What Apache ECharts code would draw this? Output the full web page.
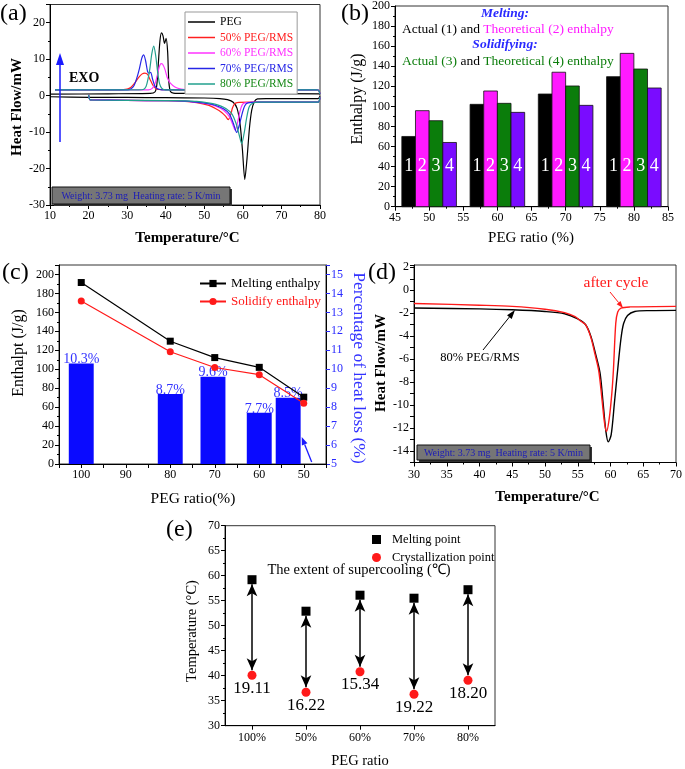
<!DOCTYPE html>
<html>
<head>
<meta charset="utf-8">
<script src="https://cdn.jsdelivr.net/npm/echarts/dist/echarts.min.js"></script>
<style>
html,body{margin:0;padding:0;background:#fff;}
#chart{width:685px;height:769px;}
</style>
</head>
<body>
<div id="chart"></div>
<script>
// ---------------- DATA ----------------
// (a) DSC curves [temperature °C, heat flow mW]
const pegHeat = [[10,-0.3],[20,-0.45],[30,-0.5],[40,-0.55],[50,-0.65],[54,-0.8],[56,-1.1],[57.5,-1.8],[58.5,-3.5],[59.3,-8],[59.9,-15],[60.5,-23],[61.1,-17],[61.7,-9],[62.3,-4],[63,-1.6],[63.8,-0.9],[66,-0.8],[79.5,-0.8],[80,-0.2]];
const pegCool = [[80,0.5],[60,0.55],[45,0.6],[42,0.7],[41.2,1.2],[40.8,4],[40.5,12],[40.1,15.7],[39.7,14.3],[39.3,16.4],[38.9,17.2],[38.5,15],[38.1,9],[37.7,3],[37.2,1],[36,0.6],[25,0.5],[10,0.4]];
const r50Heat = [[20,0.2],[20.3,-1.1],[21,-1.2],[30,-1.3],[40,-1.4],[45,-1.6],[48,-1.9],[51,-2.6],[53,-3.6],[54.5,-4.6],[55.5,-5.6],[56.2,-6.6],[56.8,-5.4],[57.3,-3.4],[57.8,-2.3],[58.5,-1.9],[62,-1.8],[79.5,-1.8],[80,-0.5]];
const r50Cool = [[80,0.5],[79.6,1.5],[79,1.6],[45,1.6],[38,1.7],[37.3,2.1],[36.6,3],[36,4.3],[35.3,5.8],[34.6,6.2],[33.8,5.9],[33,5],[32,3.5],[31,2.3],[30,1.8],[28,1.6],[11.3,1.6]];
const r60Heat = [[20,0.2],[20.3,-1.1],[21,-1.2],[30,-1.3],[40,-1.4],[45,-1.5],[48,-1.8],[51,-2.3],[53,-2.9],[55,-4],[56.5,-5.8],[57.4,-8],[58,-9.5],[58.6,-7.5],[59.2,-4.5],[59.8,-2.6],[60.5,-2],[64,-1.8],[79.5,-1.8],[80,-0.5]];
const r60Cool = [[80,0.5],[79.6,1.5],[79,1.6],[46,1.6],[44,1.8],[42.5,2.3],[41.2,3.4],[40.4,5],[39.8,7.2],[39.2,8.6],[38.8,8.8],[38.3,7.8],[37.8,5.5],[37.2,3.2],[36.5,2],[35.5,1.6],[11.3,1.6]];
const r70Heat = [[20,0.2],[20.3,-1.1],[21,-1.2],[30,-1.3],[40,-1.4],[45,-1.5],[48,-1.8],[51,-2.2],[53,-2.7],[55,-3.6],[56.5,-5],[57.5,-7.5],[58.4,-10.1],[59.1,-8],[59.8,-5],[60.5,-2.8],[61.3,-2],[64,-1.8],[79.5,-1.8],[80,-0.5]];
const r70Cool = [[80,0.5],[79.6,1.5],[79,1.6],[39,1.6],[38,1.8],[37.2,2.6],[36.6,4.5],[36.1,6.4],[35.7,6.2],[35.3,6.6],[34.8,9.5],[34.3,11.2],[33.8,10.3],[33.2,7.5],[32.5,4.8],[31.8,2.8],[31,1.9],[30,1.6],[11.3,1.6]];
const r80Heat = [[20,0.2],[20.3,-1.1],[21,-1.2],[30,-1.3],[40,-1.35],[45,-1.45],[48,-1.6],[51,-2.0],[53,-2.4],[55,-3.2],[57,-4.8],[58.2,-7.5],[59.1,-11],[59.7,-13.2],[60.3,-10.5],[61,-6],[61.6,-3.2],[62.3,-2.2],[64,-1.8],[79.5,-1.8],[80,-0.5]];
const r80Cool = [[80,0.5],[79.6,1.5],[79,1.6],[40,1.6],[39,2],[38.4,3.3],[37.9,6.5],[37.4,11],[36.9,13.6],[36.4,11.5],[35.9,7.5],[35.4,4.5],[34.9,2.5],[34.2,1.7],[33,1.6],[11.3,1.6]];

// (b) enthalpy bars
const ratioB = [50, 60, 70, 80];
const actualMelt = [70, 102, 112.3, 129.6];
const theoMelt = [95.7, 115.3, 134, 152.8];
const actualSolid = [85.7, 103, 120.3, 137.2];
const theoSolid = [64, 94, 101, 118.3];

// (c) enthalpy vs ratio, heat loss
const ratioC = [100, 80, 70, 60, 50];
const meltC = [191.5, 129.6, 112.3, 102, 70.5];
const solidC = [172, 118.5, 101.8, 94.3, 64];
const lossBarX = [100, 80, 70.4, 60, 53.5];
const lossC = [10.3, 8.7, 9.6, 7.7, 8.5];

// (d) cycling DSC
const d80 = [[30,-1.55],[40,-1.62],[45,-1.7],[50,-1.85],[53,-2.05],[55,-2.5],[56.2,-3.0],[57,-4.0],[57.7,-5.5],[58.4,-7.2],[58.9,-10],[59.3,-12.3],[59.65,-13.2],[60.1,-12.6],[60.6,-9.8],[61.1,-6.9],[61.6,-4.2],[62,-2.9],[62.6,-2.2],[63.7,-1.85],[66,-1.77],[70,-1.75]];
const dCycle = [[30,-1.15],[40,-1.3],[45,-1.4],[50,-1.65],[53,-1.95],[54.6,-2.3],[55.5,-2.7],[56.2,-3.0],[57,-4.1],[57.6,-5.5],[58.2,-7.0],[58.7,-9.5],[59.1,-11.6],[59.4,-12.3],[59.8,-11.2],[60.2,-9.0],[60.45,-6.9],[60.8,-2.9],[61.1,-1.9],[61.6,-1.55],[63,-1.45],[70,-1.4]];

// (e) supercooling
const ratioE = ['100%', '50%', '60%', '70%', '80%'];
const meltE = [59.2, 52.9, 56.1, 55.5, 57.2];
const crystE = [40.1, 36.7, 40.8, 36.3, 39.1];
const supercool = ['19.11', '16.22', '15.34', '19.22', '18.20'];

// ---------------- STYLE / LAYOUT ----------------
const FONT = '"Liberation Serif","Times New Roman",serif';

function mkAxis(base, o) {
  o = o || {};
  return Object.assign({
    axisLine: {show: true, onZero: false, lineStyle: {color: '#000', width: 1}},
    axisTick: {show: true, inside: false, length: 4, alignWithLabel: true, lineStyle: {color: o.tickColor || '#000', width: 1}},
    minorTick: {show: !!o.minor, splitNumber: o.minor || 2, length: 2, lineStyle: {color: '#000', width: 1}},
    splitLine: {show: false},
    minorSplitLine: {show: false},
    axisLabel: {color: o.labelColor || '#000', fontSize: 12, fontFamily: FONT, margin: o.margin || 5, formatter: o.fmt}
  }, base);
}

const grids = [
  {left: 50, top: 4.5, width: 270, height: 200.5},
  {left: 395, top: 6, width: 273, height: 200.7},
  {left: 59, top: 265, width: 267, height: 199},
  {left: 414, top: 265, width: 264.3, height: 197.5},
  {left: 225, top: 525.7, width: 270, height: 200}
].map(g => Object.assign({show: true, borderColor: '#333', borderWidth: 1, backgroundColor: 'transparent'}, g));

const xAxes = [
  mkAxis({gridIndex: 0, type: 'value', min: 10, max: 80, interval: 10}, {minor: 2, margin: 5}),
  mkAxis({gridIndex: 1, type: 'value', min: 45, max: 85, interval: 5}, {minor: 2, margin: 5}),
  mkAxis({gridIndex: 2, type: 'value', min: 45, max: 105, interval: 5, inverse: true}, {margin: 5, fmt: v => (v % 10 === 0 ? String(v) : '')}),
  mkAxis({gridIndex: 3, type: 'value', min: 30, max: 70, interval: 5}, {minor: 2, margin: 6}),
  mkAxis({gridIndex: 4, type: 'category', data: ratioE, boundaryGap: true}, {margin: 6})
];
const yAxes = [
  mkAxis({gridIndex: 0, type: 'value', min: -30, max: 25, interval: 10}, {minor: 2, fmt: v => (v > 20 ? '' : String(v))}),
  mkAxis({gridIndex: 1, type: 'value', min: 0, max: 200, interval: 20}, {minor: 2}),
  mkAxis({gridIndex: 2, type: 'value', min: 0, max: 210, interval: 20}, {minor: 2, fmt: v => (v > 200 ? '' : String(v))}),
  mkAxis({gridIndex: 2, type: 'value', position: 'right', min: 5, max: 15.5, interval: 1}, {labelColor: '#2a2aff', tickColor: '#2a2aff', fmt: v => (v > 15 ? '' : String(v))}),
  mkAxis({gridIndex: 3, type: 'value', min: -15, max: 2.2, interval: 1}, {fmt: v => (Math.abs(v - Math.round(v)) < 1e-6 && Math.round(v) % 2 === 0 ? String(Math.round(v)) : '')}),
  mkAxis({gridIndex: 4, type: 'value', min: 30, max: 70, interval: 5}, {minor: 2})
];

// (a) series
const dscA = [
  ['PEG', pegHeat, pegCool, '#000000'],
  ['50% PEG/RMS', r50Heat, r50Cool, '#ff2020'],
  ['60% PEG/RMS', r60Heat, r60Cool, '#ff33ff'],
  ['70% PEG/RMS', r70Heat, r70Cool, '#2626e6'],
  ['80% PEG/RMS', r80Heat, r80Cool, '#22a08e']
];
const series = [];
dscA.forEach(([name, heat, cool, color]) => {
  [heat, cool].forEach(d => series.push({
    name, type: 'line', xAxisIndex: 0, yAxisIndex: 0, data: d, symbol: 'none', showSymbol: false,
    smooth: 0.25, color, lineStyle: {color, width: 1.2}, z: 3
  }));
});

// (b) bars
const barSpecs = [
  [actualMelt, -3, '#000000', '1'],
  [theoMelt, -1, '#ff1aff', '2'],
  [actualSolid, 1, '#0b7d0b', '3'],
  [theoSolid, 3, '#7a0cff', '4']
];
barSpecs.forEach(([vals, off, color, lab]) => {
  series.push({
    type: 'custom', xAxisIndex: 1, yAxisIndex: 1,
    data: ratioB.map((r, i) => [r, vals[i]]),
    renderItem: (params, api) => {
      const x = api.value(0), v = api.value(1);
      const p0 = api.coord([x + off - 1, v]);
      const p1 = api.coord([x + off + 1, 0]);
      const pl = api.coord([x + off, 40]);
      return {type: 'group', children: [
        {type: 'rect', shape: {x: p0[0], y: p0[1], width: p1[0] - p0[0], height: p1[1] - p0[1]}, style: {fill: color, stroke: '#111', lineWidth: 0.8}},
        {type: 'text', x: pl[0], y: pl[1], style: {text: lab, fill: '#fff', fontSize: 18, fontFamily: FONT, align: 'center', verticalAlign: 'middle'}}
      ]};
    }
  });
});

// (c) heat-loss bars + lines
series.push({
  type: 'custom', xAxisIndex: 2, yAxisIndex: 3, z: 1,
  data: lossBarX.map((x, i) => [x, lossC[i]]),
  renderItem: (params, api) => {
    const x = api.value(0), v = api.value(1);
    const p0 = api.coord([x - 2.8, v]);
    const p1 = api.coord([x + 2.8, 5]);
    const left = Math.min(p0[0], p1[0]);
    return {type: 'group', children: [
      {type: 'rect', shape: {x: left, y: p0[1], width: Math.abs(p1[0] - p0[0]), height: p1[1] - p0[1]}, style: {fill: '#0a0aff'}},
      {type: 'text', x: (p0[0] + p1[0]) / 2, y: p0[1] - 4, style: {text: lossC[params.dataIndex].toFixed(1) + '%', fill: '#3333ff', fontSize: 14, fontFamily: FONT, align: 'center', verticalAlign: 'middle'}}
    ]};
  }
});
series.push({
  name: 'Melting enthalpy', type: 'line', xAxisIndex: 2, yAxisIndex: 2, z: 5,
  data: ratioC.map((r, i) => [r, meltC[i]]), symbol: 'rect', symbolSize: 7,
  color: '#000', lineStyle: {color: '#000', width: 1.2}, itemStyle: {color: '#000', opacity: 1}
});
series.push({
  name: 'Solidify enthalpy', type: 'line', xAxisIndex: 2, yAxisIndex: 2, z: 5,
  data: ratioC.map((r, i) => [r, solidC[i]]), symbol: 'circle', symbolSize: 7,
  color: '#ff1a1a', lineStyle: {color: '#ff1a1a', width: 1.2}, itemStyle: {color: '#ff1a1a', opacity: 1}
});

// (d)
series.push({name: '80% PEG/RMS (d)', type: 'line', xAxisIndex: 3, yAxisIndex: 4, data: d80, symbol: 'none', smooth: 0.3, lineStyle: {color: '#000', width: 1.4}, color: '#000'});
series.push({name: 'after cycle', type: 'line', xAxisIndex: 3, yAxisIndex: 4, data: dCycle, symbol: 'none', smooth: 0.3, lineStyle: {color: '#ff1a1a', width: 1.4}, color: '#ff1a1a'});

// (e)
series.push({
  name: 'Melting point', type: 'scatter', xAxisIndex: 4, yAxisIndex: 5, z: 5,
  data: meltE, symbol: 'rect', symbolSize: 9, itemStyle: {color: '#000', opacity: 1}, color: '#000',
  markLine: {
    silent: true, symbol: ['arrow', 'arrow'], symbolSize: [8, 12], animation: false,
    label: {show: false}, lineStyle: {color: '#000', width: 1.5, type: 'solid', opacity: 1},
    data: ratioE.map((c, i) => [{coord: [i, meltE[i] - 0.9]}, {coord: [i, crystE[i] + 1.0]}])
  }
});
series.push({
  name: 'Crystallization point', type: 'scatter', xAxisIndex: 4, yAxisIndex: 5, z: 5,
  data: crystE, symbol: 'circle', symbolSize: 9, itemStyle: {color: '#ff1a1a', opacity: 1}, color: '#ff1a1a',
  label: {show: true, position: 'bottom', distance: 0, formatter: p => supercool[p.dataIndex], color: '#000', fontSize: 17, fontFamily: FONT}
});

// ---------------- GRAPHIC ANNOTATIONS ----------------
function txt(x, y, text, o) {
  o = o || {};
  return {type: 'text', x, y, rotation: o.rot || 0, z: 20, style: {
    text, fill: o.color || '#000', fontSize: o.size || 16, fontFamily: FONT,
    fontWeight: o.bold ? 'bold' : 'normal', fontStyle: o.italic ? 'italic' : 'normal',
    align: o.align || 'center', verticalAlign: 'middle', rich: o.rich
  }};
}
function arrow(x1, y1, x2, y2, color, lw, hl, hw) {
  const a = Math.atan2(y2 - y1, x2 - x1);
  const bx = x2 - hl * Math.cos(a), by = y2 - hl * Math.sin(a);
  const px = -Math.sin(a) * hw / 2, py = Math.cos(a) * hw / 2;
  return [
    {type: 'line', z: 20, shape: {x1, y1, x2: bx, y2: by}, style: {stroke: color, lineWidth: lw}},
    {type: 'polygon', z: 20, shape: {points: [[x2, y2], [bx + px, by + py], [bx - px, by - py]]}, style: {fill: color}}
  ];
}
function infoBox(x, y, w, h) {
  return [
    {type: 'rect', z: 18, shape: {x: x + 2, y: y + 2, width: w, height: h}, style: {fill: '#333'}},
    {type: 'rect', z: 19, shape: {x, y, width: w, height: h}, style: {fill: '#767676', stroke: '#111', lineWidth: 1}},
    txt(x + w / 2, y + h / 2 + 0.5, 'Weight: 3.73 mg  Heating rate: 5 K/min', {size: 10, color: '#1c1cb8'})
  ];
}
const R90 = Math.PI / 2;
const graphic = [
  // panel labels
  txt(0, 14, '(a)', {size: 24, align: 'left'}),
  txt(341, 14, '(b)', {size: 24, align: 'left'}),
  txt(2, 273, '(c)', {size: 24, align: 'left'}),
  txt(368, 273, '(d)', {size: 24, align: 'left'}),
  txt(166, 530, '(e)', {size: 24, align: 'left'}),
  // (a)
  txt(17.5, 107, 'Heat Flow/mW', {bold: true, size: 15, rot: R90}),
  txt(187.5, 238, 'Temperature/°C', {bold: true, size: 15}),
  txt(69, 78, 'EXO', {bold: true, size: 14, align: 'left'}),
  ...arrow(60, 142, 60, 53, '#1a1aff', 1.5, 12, 8),
  ...infoBox(52, 187, 178, 17),
  // (b)
  txt(358, 99, 'Enthalpy (J/g)', {size: 16, rot: R90}),
  txt(531, 238, 'PEG ratio (%)', {size: 15}),
  txt(505, 14, 'Melting:', {size: 13.5, bold: true, italic: true, color: '#2a2aff'}),
  txt(402, 29.5, '{k|Actual (1) and }{m|Theoretical (2) enthalpy}', {align: 'left', rich: {
    k: {fill: '#000', fontSize: 13.5, fontFamily: FONT}, m: {fill: '#ff1aff', fontSize: 13.5, fontFamily: FONT}}}),
  txt(505, 45, 'Solidifying:', {size: 13.5, bold: true, italic: true, color: '#2a2aff'}),
  txt(402, 61, '{g|Actual (3) }{k|and }{g|Theoretical (4) enthalpy}', {align: 'left', rich: {
    k: {fill: '#000', fontSize: 13.5, fontFamily: FONT}, g: {fill: '#0b7d0b', fontSize: 13.5, fontFamily: FONT}}}),
  // (c)
  txt(19, 353, 'Enthalpt (J/g)', {size: 16, rot: R90}),
  txt(193, 499, 'PEG ratio(%)', {size: 15.5}),
  txt(359, 368, 'Percentage of heat loss (%)', {size: 17.5, color: '#3232ff', rot: -R90}),
  ...arrow(311.7, 462, 301.7, 437, '#1a1aff', 1.3, 8, 6),
  // (d)
  txt(381, 363, 'Heat Flow/mW', {bold: true, size: 15, rot: R90}),
  txt(547.5, 497, 'Temperature/°C', {bold: true, size: 15}),
  txt(616, 283, 'after cycle', {size: 15.5, color: '#ff1a1a'}),
  txt(480, 358, '80% PEG/RMS', {size: 12.5}),
  ...arrow(483, 350, 515, 310, '#000', 1, 9, 6),
  ...arrow(610, 292, 623, 308, '#ff1a1a', 1, 7, 5),
  ...infoBox(417, 445, 173, 15),
  // (e)
  txt(359, 570, 'The extent of supercooling (℃)', {size: 14.5}),
  txt(192, 631, 'Temperature (°C)', {size: 14.5, rot: R90}),
  txt(360, 761, 'PEG ratio', {size: 14.5})
];

const legends = [
  {
    left: 185, top: 12, orient: 'vertical', padding: [4, 4, 4, 3], itemGap: 3.5, itemWidth: 27, itemHeight: 1.5,
    borderColor: '#999', borderWidth: 1, backgroundColor: '#fff', selectedMode: false,
    textStyle: {fontSize: 11.5, fontFamily: FONT},
    data: [
      {name: 'PEG', icon: 'rect', textStyle: {color: '#000'}},
      {name: '50% PEG/RMS', icon: 'rect', textStyle: {color: '#ff2020'}},
      {name: '60% PEG/RMS', icon: 'rect', textStyle: {color: '#ff33ff'}},
      {name: '70% PEG/RMS', icon: 'rect', textStyle: {color: '#2626e6'}},
      {name: '80% PEG/RMS', icon: 'rect', textStyle: {color: '#1a8a1a'}}
    ]
  },
  {
    left: 199, top: 277, orient: 'vertical', padding: 0, itemGap: 5, itemWidth: 26, itemHeight: 9, selectedMode: false,
    textStyle: {fontSize: 13, fontFamily: FONT},
    data: [
      {name: 'Melting enthalpy', textStyle: {color: '#000'}},
      {name: 'Solidify enthalpy', textStyle: {color: '#ff1a1a'}}
    ]
  },
  {
    left: 372, top: 533, orient: 'vertical', padding: 0, itemGap: 5, itemWidth: 9, itemHeight: 9, selectedMode: false,
    textStyle: {fontSize: 12.5, fontFamily: FONT, color: '#000', padding: [0, 0, 0, 6]},
    data: [
      {name: 'Melting point', icon: 'rect', itemStyle: {color: '#000', opacity: 1}},
      {name: 'Crystallization point', icon: 'circle', itemStyle: {color: '#ff1a1a', opacity: 1}}
    ]
  }
];

const chart = echarts.init(document.getElementById('chart'), null, {renderer: 'canvas'});
chart.setOption({
  animation: false,
  backgroundColor: '#fff',
  textStyle: {fontFamily: FONT},
  grid: grids,
  xAxis: xAxes,
  yAxis: yAxes,
  legend: legends,
  series,
  graphic
});
</script>
</body>
</html>
